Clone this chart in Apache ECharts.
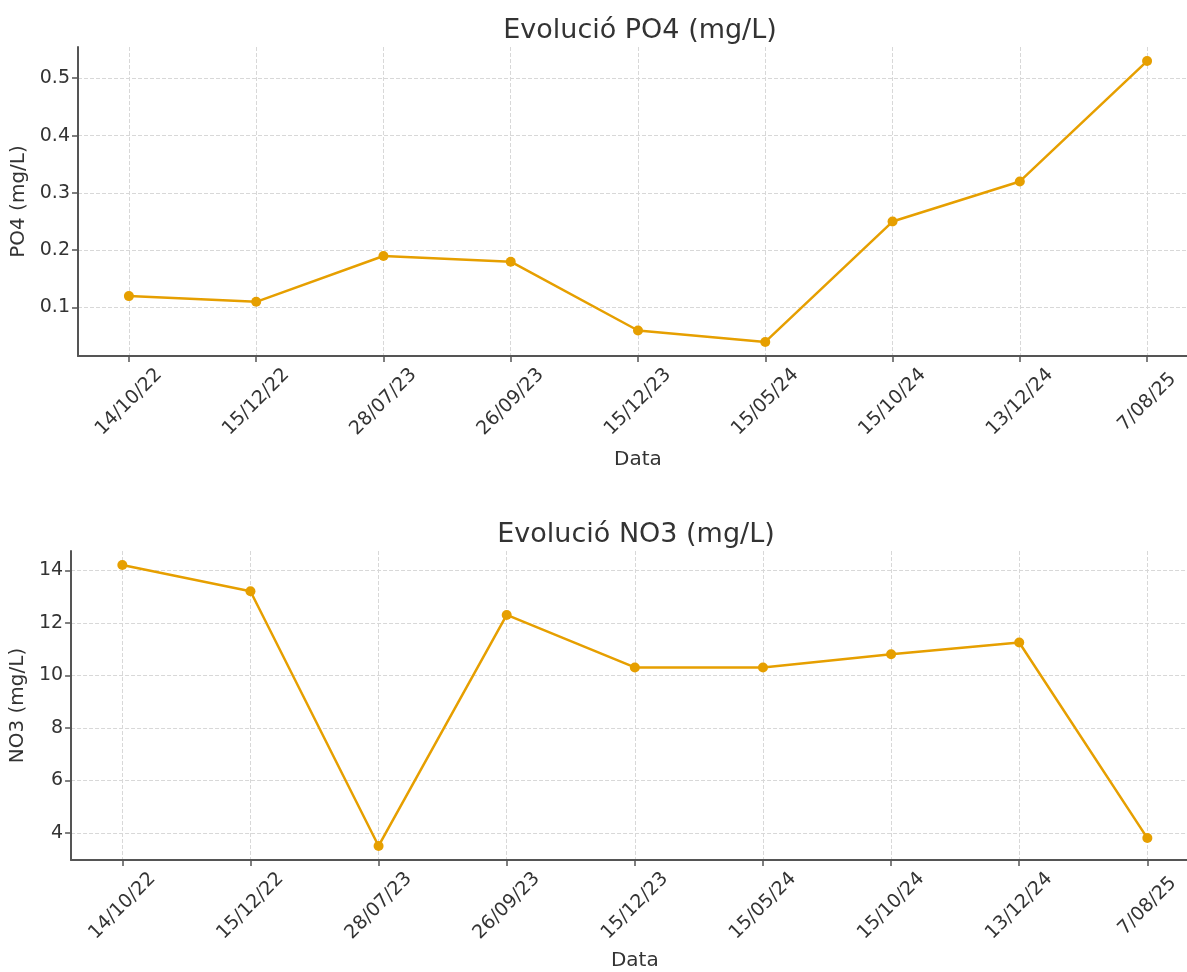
<!DOCTYPE html>
<html><head><meta charset="utf-8">
<script src="https://cdn.jsdelivr.net/npm/echarts@6/dist/echarts.min.js"></script>
<style>html,body{margin:0;padding:0;background:#fff;overflow:hidden}#c{width:1200px;height:972px}</style>
</head><body><div id="c"></div>
<script>
const dates = ['14/10/22','15/12/22','28/07/23','26/09/23','15/12/23','15/05/24','15/10/24','13/12/24','7/08/25'];
const po4 = [0.12, 0.11, 0.19, 0.18, 0.06, 0.04, 0.25, 0.32, 0.53];
const no3 = [14.2, 13.2, 3.5, 12.3, 10.3, 10.3, 10.8, 11.25, 3.8];
const po4Ticks = [0.1, 0.2, 0.3, 0.4, 0.5];
const no3Ticks = [4, 6, 8, 10, 12, 14];

const FONT = 'DejaVu Sans';
const COLOR = '#E69F00';
const idx = dates.map((d, i) => i);

function xAxis(gridIndex, gap) {
  return {
    type: 'value', gridIndex, min: -0.4, max: 8.4,
    name: 'Data', nameLocation: 'middle', nameGap: gap,
    nameTextStyle: { fontFamily: FONT, fontSize: 20, color: '#333' },
    axisLine: { show: true, onZero: false, lineStyle: { color: '#555', width: 2 } },
    axisTick: { show: true, inside: false, length: 6, customValues: idx, lineStyle: { color: '#555', width: 1.5 } },
    axisLabel: {
      customValues: idx, rotate: 45, align: 'center', verticalAlign: 'middle', margin: 46,
      fontFamily: FONT, fontSize: 19, color: '#333',
      formatter: v => dates[Math.round(v)]
    },
    splitLine: { show: true, lineStyle: { color: '#d8d8d8', type: 'dashed', width: 1 } }
  };
}
function yAxis(gridIndex, name, min, max, ticks, fmt, gap) {
  return {
    type: 'value', gridIndex, min, max,
    name, nameLocation: 'middle', nameGap: gap,
    nameTextStyle: { fontFamily: FONT, fontSize: 20, color: '#333' },
    axisLine: { show: true, onZero: false, lineStyle: { color: '#555', width: 2 } },
    axisTick: { show: true, inside: false, length: 6, customValues: ticks, lineStyle: { color: '#555', width: 1.5 } },
    axisLabel: { customValues: ticks, margin: 8, fontFamily: FONT, fontSize: 19, color: '#333', formatter: fmt },
    splitLine: { show: true, lineStyle: { color: '#d8d8d8', type: 'dashed', width: 1 } }
  };
}

const chart = echarts.init(document.getElementById('c'), null, { renderer: 'canvas' });
chart.setOption({
  animation: false,
  backgroundColor: '#fff',
  title: [
    { text: 'Evolució PO4 (mg/L)', left: 635, top: 12, textAlign: 'center',
      textStyle: { fontFamily: FONT, fontSize: 27, fontWeight: 'normal', color: '#333' } },
    { text: 'Evolució NO3 (mg/L)', left: 631, top: 516, textAlign: 'center',
      textStyle: { fontFamily: FONT, fontSize: 27, fontWeight: 'normal', color: '#333' } }
  ],
  grid: [
    { left: 78, top: 47, width: 1120, height: 309 },
    { left: 70, top: 551, width: 1128.6, height: 310 }
  ],
  xAxis: [xAxis(0, 94), xAxis(1, 91)],
  yAxis: [
    yAxis(0, 'PO4 (mg/L)', 0.0155, 0.5545, po4Ticks, v => v.toFixed(1), 47),
    yAxis(1, 'NO3 (mg/L)', 2.965, 14.735, no3Ticks, v => String(Math.round(v)), 42)
  ],
  series: [
    { type: 'line', xAxisIndex: 0, yAxisIndex: 0, data: po4.map((v, i) => [i, v]),
      symbol: 'circle', symbolSize: 10, itemStyle: { color: COLOR }, lineStyle: { color: COLOR, width: 2.5 } },
    { type: 'line', xAxisIndex: 1, yAxisIndex: 1, data: no3.map((v, i) => [i, v]),
      symbol: 'circle', symbolSize: 10, itemStyle: { color: COLOR }, lineStyle: { color: COLOR, width: 2.5 } }
  ]
});
</script></body></html>
